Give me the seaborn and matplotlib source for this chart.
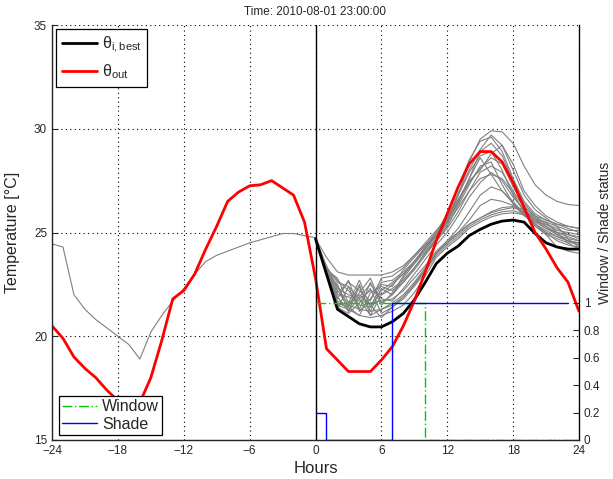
import numpy as np
import pandas as pd
import matplotlib
matplotlib.use('Agg')
import matplotlib.pyplot as plt
import seaborn as sns

sns.set_style('white')
plt.rcParams['font.family'] = ['Liberation Sans', 'DejaVu Sans']
plt.rcParams['mathtext.default'] = 'regular'

# ---------------- data ----------------
hours_all = list(range(-24, 25))
hours_past = list(range(-24, 1))
hours_fut = list(range(0, 25))

theta_out = [20.5, 19.9, 19.0, 18.45, 18.0, 17.4, 16.9, 16.6, 16.8, 18.0,
             19.8, 21.8, 22.2, 23.0, 24.2, 25.3, 26.5, 26.95, 27.25, 27.3,
             27.5, 27.15, 26.8, 25.5, 22.8, 19.4, 18.85, 18.3, 18.3, 18.3,
             18.85, 19.5, 20.5, 21.7, 23.1, 24.6, 25.9, 27.2, 28.3, 28.9,
             28.9, 28.4, 27.4, 26.2, 25.0, 24.2, 23.3, 22.6, 21.2]

theta_past = [24.45, 24.3, 22.0, 21.3, 20.8, 20.4, 20.0, 19.6, 18.9, 20.2,
              21.0, 21.7, 22.3, 23.0, 23.6, 23.9, 24.1, 24.3, 24.5, 24.65,
              24.8, 24.95, 24.95, 24.85, 24.75]

theta_best = [24.7, 23.0, 21.3, 20.95, 20.6, 20.45, 20.45, 20.7, 21.1, 21.75,
              22.6, 23.5, 24.0, 24.35, 24.85, 25.15, 25.4, 25.55, 25.6, 25.5,
              24.95, 24.5, 24.3, 24.2, 24.2]

scen_1 = [24.7, 23.8, 23.1, 22.95, 22.95, 22.95, 22.95, 23.1, 23.4, 23.9, 24.4, 24.8, 25.5,
          26.8, 28.4, 29.5, 29.9, 29.85, 29.3, 28.2, 27.3, 26.8, 26.5, 26.35, 26.3]
scen_2 = [24.7, 23.2, 22.8, 21.6, 22.7, 21.4, 22.5, 22.4, 23.2, 23.8, 24.4, 25.0, 25.9,
          27.2, 28.5, 29.4, 29.6, 28.9, 27.6, 26.5, 25.9, 25.6, 25.4, 25.2, 25.0]
scen_3 = [24.7, 23.1, 21.8, 22.7, 21.3, 22.6, 21.5, 22.1, 22.9, 23.6, 24.2, 24.8, 25.6,
          26.8, 27.9, 28.7, 28.9, 28.0, 26.8, 26.0, 25.6, 25.3, 24.9, 24.6, 24.4]
scen_4 = [24.7, 23.0, 22.5, 21.2, 22.4, 21.2, 22.3, 22.0, 22.6, 23.3, 24.0, 24.6, 25.3,
          26.3, 27.3, 28.2, 28.4, 27.3, 26.4, 25.8, 25.5, 25.4, 25.2, 24.9, 24.7]
scen_5 = [24.7, 23.4, 22.3, 22.0, 21.8, 22.2, 22.0, 22.5, 23.0, 23.5, 24.1, 24.7, 25.4,
          26.2, 27.0, 27.6, 27.8, 27.6, 26.9, 26.0, 25.6, 25.5, 25.3, 25.1, 25.1]
scen_6 = [24.7, 23.1, 21.6, 21.4, 22.5, 21.0, 21.3, 21.6, 22.0, 22.6, 23.3, 24.0, 24.6,
          25.2, 26.0, 26.8, 27.2, 27.0, 26.5, 25.9, 25.4, 25.0, 24.6, 24.4, 24.3]
scen_7 = [24.7, 23.0, 21.5, 21.3, 21.0, 20.9, 21.0, 21.2, 21.5, 22.1, 22.9, 23.8, 24.3,
          24.7, 25.2, 25.5, 25.75, 25.9, 25.95, 25.85, 25.3, 24.9, 24.7, 24.5, 24.5]
scen_8 = [24.7, 23.2, 22.0, 21.9, 21.7, 21.6, 21.7, 21.8, 22.2, 22.8, 23.4, 24.1, 24.6,
          25.0, 25.4, 25.7, 25.95, 26.1, 26.2, 26.0, 25.5, 25.2, 25.0, 24.9, 24.8]
scen_9 = [24.7, 23.0, 21.3, 22.4, 21.8, 21.0, 22.0, 22.3, 22.7, 23.3, 24.0, 24.7, 25.5,
          26.5, 27.6, 28.6, 27.8, 27.0, 26.4, 25.9, 25.4, 25.1, 24.8, 24.6, 24.5]
scen_10 = [24.7, 23.3, 22.6, 22.4, 21.2, 21.8, 22.6, 22.7, 23.1, 23.6, 24.3, 25.0, 25.7,
           26.6, 27.5, 28.0, 28.8, 29.2, 28.3, 27.0, 26.3, 25.8, 25.5, 25.3, 25.2]
scen_11 = [24.7, 22.9, 21.4, 21.1, 21.6, 22.3, 21.1, 21.4, 21.9, 22.5, 23.2, 24.0, 24.5,
           25.0, 25.6, 26.3, 26.6, 26.5, 26.3, 25.9, 25.4, 24.9, 24.3, 24.1, 24.0]
scen_12 = [24.7, 23.1, 22.1, 22.6, 22.2, 21.7, 22.8, 22.9, 23.3, 23.9, 24.5, 25.1, 25.7,
           26.9, 28.0, 29.0, 29.7, 29.2, 28.0, 26.8, 26.1, 25.7, 25.3, 24.7, 24.3]
scen_13 = [24.7, 23.1, 21.7, 21.5, 21.3, 21.2, 21.3, 21.5, 21.9, 22.5, 23.2, 24.0, 24.5,
           24.9, 25.4, 25.7, 26.0, 26.2, 26.25, 26.1, 25.6, 25.2, 24.9, 24.7, 24.6]
scen_14 = [24.7, 23.2, 22.4, 21.5, 22.1, 22.8, 21.6, 22.0, 22.8, 23.5, 24.2, 24.9, 25.6,
           26.5, 27.4, 28.1, 28.6, 28.3, 27.2, 26.3, 25.7, 25.3, 25.0, 24.8, 24.6]
scen_15 = [24.7, 23.0, 21.9, 21.2, 21.9, 22.5, 21.8, 21.7, 22.3, 23.0, 23.7, 24.4, 25.0,
           25.8, 26.7, 27.4, 27.9, 27.5, 26.7, 26.1, 25.7, 25.5, 25.0, 24.5, 24.2]
scen_16 = [24.7, 23.3, 22.7, 22.2, 21.5, 21.4, 22.2, 22.6, 23.0, 23.6, 24.3, 24.9, 25.5,
           26.4, 27.6, 28.9, 29.3, 28.7, 27.5, 26.4, 25.8, 25.4, 25.1, 25.0, 24.9]
scen_17 = [24.7, 23.1, 21.5, 21.6, 22.0, 21.5, 20.9, 21.4, 21.8, 22.4, 23.1, 23.9, 24.4,
           24.8, 25.3, 25.6, 25.85, 26.0, 26.05, 25.9, 25.4, 25.0, 24.8, 24.6, 24.5]
scen_18 = [24.7, 23.2, 22.2, 21.4, 21.0, 22.1, 22.4, 22.2, 22.6, 23.2, 23.9, 24.6, 25.2,
           26.0, 27.0, 27.9, 28.2, 27.9, 27.0, 26.2, 25.8, 25.6, 25.4, 25.3, 25.2]

window_hours = list(range(0, 25))
window_status = [1, 1, 1, 1, 1, 1, 1, 1, 1, 1, 0, 0, 0, 0, 0, 0, 0, 0, 0, 0, 0, 0, 0, 0, 0]
shade_hours = list(range(0, 24))
shade_status = [0.2, 0, 0, 0, 0, 0, 0, 1, 1, 1, 1, 1, 1, 1, 1, 1, 1, 1, 1, 1, 1, 1, 1, 1]

x_ticks = [-24, -18, -12, -6, 0, 6, 12, 18, 24]
y_ticks = [15, 20, 25, 30, 35]
y2_ticks = [0, 0.2, 0.4, 0.6, 0.8, 1]
y2_labels = ['0', '0.2', '0.4', '0.6', '0.8', '1']

# ---------------- frames ----------------
scenarios = [scen_1, scen_2, scen_3, scen_4, scen_5, scen_6, scen_7, scen_8, scen_9,
             scen_10, scen_11, scen_12, scen_13, scen_14, scen_15, scen_16, scen_17, scen_18]
df_scen = pd.DataFrame({
    'h': np.tile(hours_fut, len(scenarios)),
    'T': np.concatenate(scenarios),
    'scenario': np.repeat(np.arange(len(scenarios)), len(hours_fut)),
})
df_out = pd.DataFrame({'h': hours_all, 'T': theta_out})
df_past = pd.DataFrame({'h': hours_past, 'T': theta_past})
df_best = pd.DataFrame({'h': hours_fut, 'T': theta_best})
df_win = pd.DataFrame({'h': window_hours, 's': window_status})
df_sh = pd.DataFrame({'h': shade_hours, 's': shade_status})

# ---------------- figure ----------------
fig = plt.figure(figsize=(6.13, 4.79), dpi=100)
ax = fig.add_axes([52 / 613, 1 - 440 / 479, 527 / 613, 415 / 479])

gray = '#808080'
sns.lineplot(data=df_past, x='h', y='T', ax=ax, color=gray, lw=0.8)
sns.lineplot(data=df_scen, x='h', y='T', units='scenario', estimator=None,
             ax=ax, color=gray, lw=0.8)
sns.lineplot(data=df_best, x='h', y='T', ax=ax, color='black', lw=2.0)
line_best = ax.lines[-1]
sns.lineplot(data=df_out, x='h', y='T', ax=ax, color='#ff0000', lw=2.0)
line_out = ax.lines[-1]
ax.axvline(0, color='black', lw=1.0)

ax.set_xlim(-24, 24)
ax.set_ylim(15, 35)
ax.set_xticks(x_ticks)
ax.set_yticks(y_ticks)
ax.grid(True, color='black', linestyle=(0, (1, 3)), lw=0.8)
ax.tick_params(direction='in', length=4, labelsize=8.5, width=0.8)
ax.spines['top'].set_visible(False)
for s in ['left', 'bottom', 'right']:
    ax.spines[s].set_color('black')
    ax.spines[s].set_linewidth(0.9)
ax.set_xlabel('Hours', fontsize=12, labelpad=3)
ax.set_ylabel('Temperature [°C]', fontsize=11.5, labelpad=10)
ax.set_title('Time: 2010-08-01 23:00:00', fontsize=8.5, pad=7)

ax2 = ax.twinx()
sns.lineplot(data=df_win, x='h', y='s', ax=ax2, color='#00cc00', lw=1.0,
             drawstyle='steps-post')
line_win = ax2.lines[-1]
line_win.set_linestyle((0, (7, 2, 1, 2)))
sns.lineplot(data=df_sh, x='h', y='s', ax=ax2, color='#0000ff', lw=1.0,
             drawstyle='steps-post')
line_sh = ax2.lines[-1]
ax2.set_ylim(0, 3.02)
ax2.set_yticks(y2_ticks)
ax2.set_yticklabels(y2_labels)
ax2.tick_params(direction='in', length=4, labelsize=8.5, width=0.8)
ax2.spines['top'].set_visible(False)
ax2.spines['right'].set_color('black')
ax2.set_xlabel('')
ax2.set_ylabel('Window / Shade status', fontsize=10)
ax2.yaxis.set_label_coords(1.037, 0.5)

leg1 = ax2.legend([line_best, line_out], [r'$\theta_{i,best}$', r'$\theta_{out}$'],
                  loc='upper left', bbox_to_anchor=(0.008, 0.99), fontsize=11.5,
                  fancybox=False, edgecolor='black', framealpha=1,
                  handlelength=2.2, handletextpad=0.3, borderpad=0.35,
                  labelspacing=0.45, borderaxespad=0)
leg1.get_frame().set_linewidth(0.9)
ax2.add_artist(leg1)
leg2 = ax2.legend([line_win, line_sh], ['Window', 'Shade'],
                  loc='lower left', bbox_to_anchor=(0.013, 0.012), fontsize=11.5,
                  fancybox=False, edgecolor='black', framealpha=1,
                  handlelength=2.2, handletextpad=0.3, borderpad=0.2,
                  labelspacing=0.15, borderaxespad=0)
leg2.get_frame().set_linewidth(0.9)

fig.savefig('out.png', dpi=100)
